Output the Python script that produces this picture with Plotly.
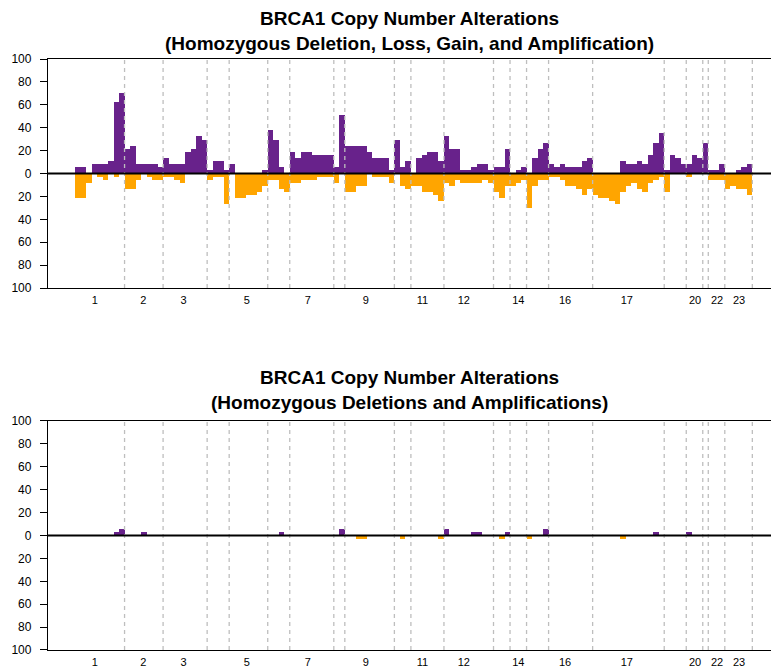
"""
BRCA1 copy number alteration frequency plots (two stacked panels).
"""

import plotly.graph_objects as go

# percent of samples per genomic bin (bins 0..122), gains on top, losses below
gain_pct = [
    5.4, 5.4, 0, 8.1, 8.1, 8.1, 10.8, 62.2, 70.3, 21.6,
    24.3, 8.1, 8.1, 8.1, 8.1, 5.4, 13.5, 8.1, 8.1, 8.1,
    18.9, 21.6, 32.4, 29.7, 2.7, 10.8, 10.8, 2.7, 8.1, 0,
    0, 0, 0, 0, 2.7, 37.8, 29.7, 5.4, 0, 18.9,
    13.5, 18.9, 18.9, 16.2, 16.2, 16.2, 16.2, 5.4, 51.4, 24.3,
    24.3, 24.3, 24.3, 18.9, 13.5, 13.5, 13.5, 2.7, 29.7, 5.4,
    10.8, 0, 13.5, 16.2, 18.9, 18.9, 10.8, 32.4, 21.6, 21.6,
    2.7, 2.7, 5.4, 8.1, 8.1, 2.7, 5.4, 5.4, 21.6, 0,
    2.7, 5.4, 0, 13.5, 21.6, 27.0, 8.1, 5.4, 8.1, 5.4,
    5.4, 5.4, 10.8, 13.5, 0, 0, 0, 0, 0, 10.8,
    8.1, 8.1, 10.8, 8.1, 16.2, 27.0, 35.1, 2.7, 16.2, 13.5,
    8.1, 8.1, 16.2, 13.5, 27.0, 2.7, 2.7, 8.1, 0, 0,
    2.7, 5.4, 8.1,
]
loss_pct = [
    21.6, 21.6, 8.1, 0, 2.7, 5.4, 0, 2.7, 0, 13.5,
    13.5, 5.4, 0, 2.7, 5.4, 5.4, 2.7, 2.7, 5.4, 8.1,
    0, 0, 0, 0, 5.4, 2.7, 2.7, 27.0, 0, 21.6,
    21.6, 18.9, 18.9, 16.2, 10.8, 5.4, 5.4, 13.5, 16.2, 8.1,
    8.1, 5.4, 5.4, 5.4, 2.7, 2.7, 2.7, 8.1, 0, 16.2,
    16.2, 10.8, 10.8, 0, 2.7, 2.7, 2.7, 8.1, 0, 10.8,
    13.5, 10.8, 10.8, 16.2, 16.2, 18.9, 24.3, 8.1, 10.8, 5.4,
    8.1, 8.1, 8.1, 8.1, 5.4, 8.1, 16.2, 21.6, 10.8, 10.8,
    8.1, 5.4, 29.7, 10.8, 5.4, 5.4, 2.7, 2.7, 5.4, 10.8,
    10.8, 13.5, 18.9, 13.5, 18.9, 21.6, 21.6, 24.3, 27.0, 16.2,
    10.8, 8.1, 13.5, 16.2, 8.1, 5.4, 2.7, 16.2, 0, 0,
    0, 2.7, 0, 0, 0, 5.4, 5.4, 5.4, 13.5, 10.8,
    13.5, 13.5, 18.9,
]

# homozygous deletions / amplifications only (sparse)
amp_bins = [7, 8, 12, 37, 48, 67, 72, 73, 78, 85, 105, 111]
amp_pct = [2.7, 5.4, 2.7, 2.7, 5.4, 5.4, 2.7, 2.7, 2.7, 5.4, 2.7, 2.7]
homdel_bins = [51, 52, 59, 66, 77, 82, 99]
homdel_pct = [2.7, 2.7, 2.7, 2.7, 2.7, 2.7, 2.7]

# first bin of each chromosome after chr1 (dashed separators)
chrom_starts = [9, 16, 24, 28, 35, 39, 47, 49, 58, 61, 67, 76, 79, 82,
                86, 94, 107, 111, 114, 115, 118, 123]
chrom_labels = ["1", "2", "3", "5", "7", "9", "11", "12", "14", "16",
                "17", "20", "22", "23"]
chrom_label_pos = [3.1, 11.9, 19.2, 30.7, 41.8, 52.3, 62.6, 70.1, 80.0,
                   88.5, 99.7, 112.1, 116.1, 120.1]

y_ticks = [-100, -80, -60, -40, -20, 0, 20, 40, 60, 80, 100]

PURPLE = "#68228B"
ORANGE = "#FFA500"
FONT = "Liberation Sans, Arial, sans-serif"
X_RANGE = [-5.40, 125.89]

bins = list(range(len(gain_pct)))

fig = go.Figure()

# top panel
fig.add_trace(go.Bar(x=bins, y=gain_pct, width=1, marker=dict(color=PURPLE, line=dict(width=0)),
                     xaxis="x", yaxis="y", showlegend=False))
fig.add_trace(go.Bar(x=bins, y=[-v for v in loss_pct], width=1, marker=dict(color=ORANGE, line=dict(width=0)),
                     xaxis="x", yaxis="y", showlegend=False))

# bottom panel
fig.add_trace(go.Bar(x=amp_bins, y=amp_pct, width=1, marker=dict(color=PURPLE, line=dict(width=0)),
                     xaxis="x2", yaxis="y2", showlegend=False))
fig.add_trace(go.Bar(x=homdel_bins, y=[-v for v in homdel_pct], width=1, marker=dict(color=ORANGE, line=dict(width=0)),
                     xaxis="x2", yaxis="y2", showlegend=False))


def _xaxis(anchor):
    return dict(
        range=X_RANGE,
        anchor=anchor,
        showline=True, linecolor="black", linewidth=1.3, mirror=True,
        showgrid=False, zeroline=False,
        ticks="",
        tickvals=chrom_label_pos, ticktext=chrom_labels,
        tickfont=dict(family=FONT, size=11, color="black"),
        ticklabelstandoff=2,
    )


def _yaxis(anchor, domain):
    return dict(
        range=[-100, 100],
        domain=domain,
        anchor=anchor,
        showline=True, linecolor="black", linewidth=1.3, mirror=False,
        showgrid=False, zeroline=False,
        ticks="outside", ticklen=7, tickwidth=1, tickcolor="black",
        tickvals=y_ticks, ticktext=[str(abs(t)) for t in y_ticks],
        tickfont=dict(family=FONT, size=12, color="black"),
        ticklabelstandoff=6,
    )


shapes = []
for xr, yr in (("x", "y"), ("x2", "y2")):
    for s in chrom_starts:
        shapes.append(dict(
            type="line", xref=xr, yref=f"{yr} domain",
            x0=s - 0.5, x1=s - 0.5, y0=0, y1=1,
            line=dict(color="#BEBEBE", width=1.3, dash="4px,4px"),
            layer="above",
        ))
    shapes.append(dict(
        type="line", xref=f"{xr} domain", yref=yr,
        x0=0, x1=1, y0=0, y1=0,
        line=dict(color="black", width=2), layer="above",
    ))

title_font = dict(family=FONT, size=19, color="black")
annotations = [
    dict(text="<b>BRCA1 Copy Number Alterations</b><br>"
              "<b>(Homozygous Deletion, Loss, Gain, and Amplification)</b>",
         xref="paper", yref="paper", x=0.5, y=1.047, xanchor="center", yanchor="middle",
         showarrow=False, font=title_font),
    dict(text="<b>BRCA1 Copy Number Alterations</b><br>"
              "<b>(Homozygous Deletions and Amplifications)</b>",
         xref="paper", yref="paper", x=0.5, y=0.44, xanchor="center", yanchor="middle",
         showarrow=False, font=title_font),
]

fig.update_layout(
    width=771, height=669,
    margin=dict(l=48, r=0, t=59, b=19, autoexpand=False),
    paper_bgcolor="white", plot_bgcolor="white",
    barmode="overlay", bargap=0,
    font=dict(family=FONT, color="black"),
    xaxis=_xaxis("y"),
    yaxis=_yaxis("x", [0.6125, 1.0]),
    xaxis2=_xaxis("y2"),
    yaxis2=_yaxis("x2", [0.0, 0.3875]),
    shapes=shapes,
    annotations=annotations,
)

# drop the default 8px page margin so the figure sits at the window origin
fig.write_html("out.html", config={"displayModeBar": False},
               post_script="document.body.style.margin='0';")
